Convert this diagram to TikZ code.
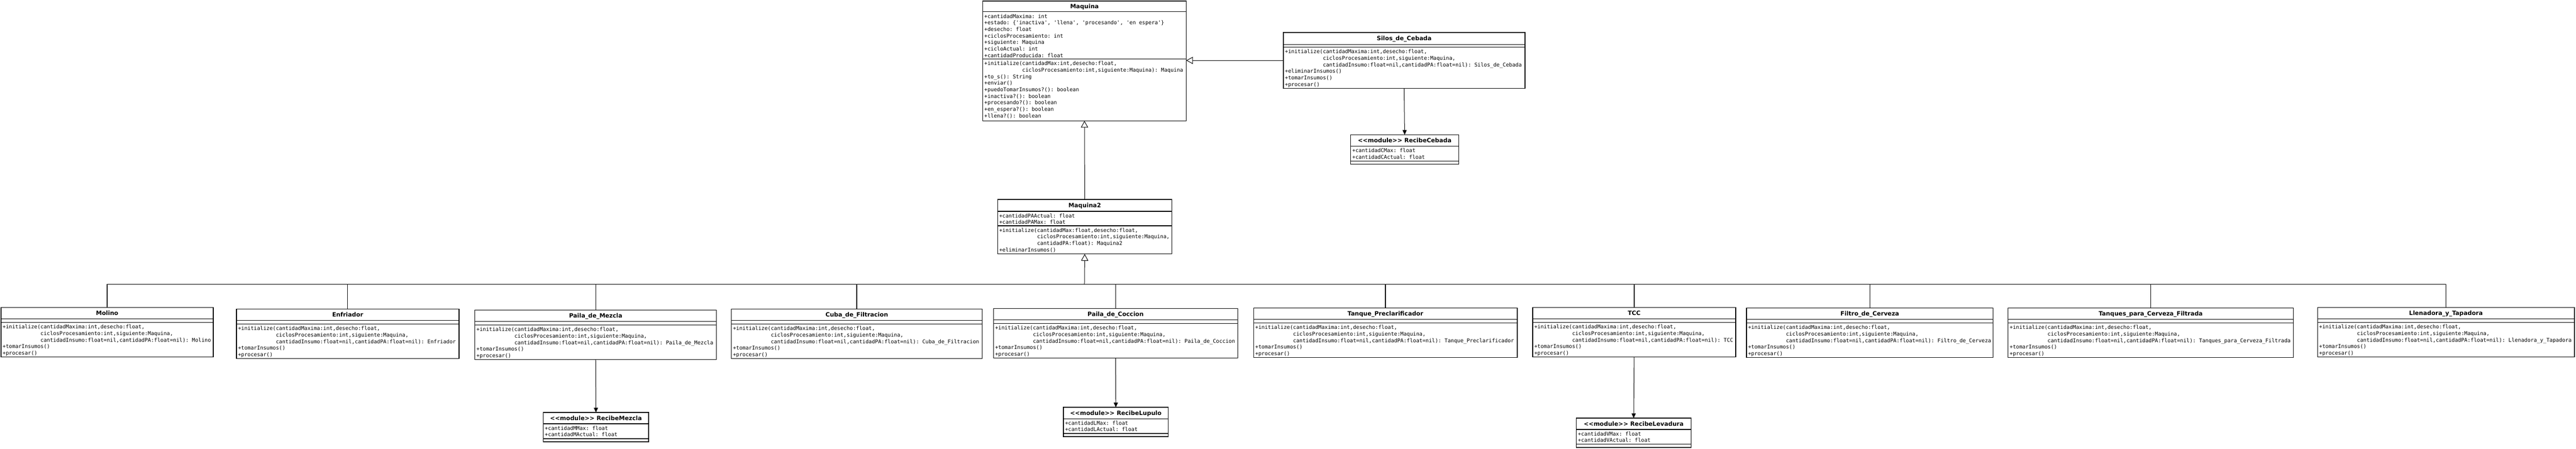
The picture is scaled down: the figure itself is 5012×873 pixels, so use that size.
\documentclass[tikz,border=0pt]{standalone}
\usepackage{fontspec}
\setmonofont{DejaVu Sans Mono}
\newfontfamily\titlefont{DejaVu Sans}
\usetikzlibrary{arrows.meta}

\tikzset{
  box/.style={draw, line width=1.3pt, fill=white, inner sep=0pt, outer sep=0pt},
  sepline/.style={line width=1.1pt},
  titlest/.style={inner sep=0pt, font=\titlefont\bfseries\fontsize{11.5}{13}\selectfont},
  body/.style={anchor=north west, inner sep=0pt, align=left, font=\ttfamily\fontsize{10.2}{12.7}\selectfont},
  gen/.style={line width=1pt, -{Triangle[open, fill=white, width=14pt, length=13pt]}},
  genline/.style={line width=1.2pt},
  dep/.style={line width=1pt, -{Triangle[width=8pt, length=9pt]}},
}

% name, x1, y1, x2, y2, sep1, sep2, title
\newcommand\umlbox[8]{%
  \node[box, anchor=north west, minimum width={#4-#2}, minimum height={#5-#3}] (#1) at (#2,#3) {};
  \draw[sepline] (#2,#6) -- (#4,#6);
  \draw[sepline] (#2,#7) -- (#4,#7);
  \node[titlest, anchor=base] (#1-t) at ({(#2+#4)/2},{(#3+#6)/2+4}) {#8};
}
% name, x1, sep, text
\newcommand\umltxt[4]{%
  \node[body] (#1) at ({#2+3},{#3+3}) {\rule{0pt}{9pt}#4};
}
\newcommand\ind{\phantom{+initialize(}}
\newcommand\stdmeth[1]{+initialize(cantidadMaxima:int,desecho:float,\\\ind ciclosProcesamiento:int,siguiente:Maquina,\\\ind cantidadInsumo:float=nil,cantidadPA:float=nil): #1\\+tomarInsumos()\\+procesar()}
\newcommand\modtitle[1]{<\kern0pt<module>\kern0pt> #1}

\begin{document}
\begin{tikzpicture}[x=1pt,y=-1pt]
\fill[white] (0,0) rectangle (5012,873);
\useasboundingbox (0,0) rectangle (5012,873);

% ---------- Maquina ----------
\umlbox{maquina}{1912}{2}{2308}{235}{23}{115}{Maquina}
\umltxt{maquina-a}{1912}{23}{+cantidadMaxima: int\\+estado: \{'inactiva', 'llena', 'procesando', 'en espera'\}\\+desecho: float\\+ciclosProcesamiento: int\\+siguiente: Maquina\\+cicloActual: int\\+cantidadProducida: float}
\umltxt{maquina-m}{1912}{115}{+initialize(cantidadMax:int,desecho:float,\\\ind ciclosProcesamiento:int,siguiente:Maquina): Maquina\\+to\_s(): String\\+enviar()\\+puedoTomarInsumos?(): boolean\\+inactiva?(): boolean\\+procesando?(): boolean\\+en\_espera?(): boolean\\+llena?(): boolean}

% ---------- Silos_de_Cebada ----------
\umlbox{silos}{2497}{63}{2967}{172}{87}{92}{Silos\_de\_Cebada}
\umltxt{silos-m}{2497}{92}{+initialize(cantidadMaxima:int,desecho:float,\\\ind ciclosProcesamiento:int,siguiente:Maquina,\\\ind cantidadInsumo:float=nil,cantidadPA:float=nil): Silos\_de\_Cebada\\+eliminarInsumos()\\+tomarInsumos()\\+procesar()}

% ---------- RecibeCebada ----------
\umlbox{rcebada}{2628}{262}{2838}{319}{284}{313}{\modtitle{RecibeCebada}}
\umltxt{rcebada-a}{2628}{284}{+cantidadCMax: float\\+cantidadCActual: float}

% ---------- Maquina2 ----------
\umlbox{maquina2}{1941}{388}{2280}{494}{411}{439}{Maquina2}
\umltxt{maquina2-a}{1941}{411}{+cantidadPAActual: float\\+cantidadPAMax: float}
\umltxt{maquina2-m}{1941}{439}{+initialize(cantidadMax:float,desecho:float,\\\ind ciclosProcesamiento:int,siguiente:Maquina,\\\ind cantidadPA:float): Maquina2\\+eliminarInsumos()}

% ---------- subclasses ----------
\umlbox{molino}{2}{598}{415}{694}{620}{627}{Molino}
\umltxt{molino-m}{2}{627}{\stdmeth{Molino}}

\umlbox{enfriador}{460}{601}{893}{697}{623}{630}{Enfriador}
\umltxt{enfriador-m}{460}{630}{\stdmeth{Enfriador}}

\umlbox{mezcla}{924}{603}{1394}{699}{625}{632}{Paila\_de\_Mezcla}
\umltxt{mezcla-m}{924}{632}{\stdmeth{Paila\_de\_Mezcla}}

\umlbox{cuba}{1423}{601}{1911}{697}{623}{630}{Cuba\_de\_Filtracion}
\umltxt{cuba-m}{1423}{630}{\stdmeth{Cuba\_de\_Filtracion}}

\umlbox{coccion}{1933}{600}{2408}{696}{622}{629}{Paila\_de\_Coccion}
\umltxt{coccion-m}{1933}{629}{\stdmeth{Paila\_de\_Coccion}}

\umlbox{tanque}{2439}{599}{2952}{695}{621}{628}{Tanque\_Preclarificador}
\umltxt{tanque-m}{2439}{628}{\stdmeth{Tanque\_Preclarificador}}

\umlbox{tcc}{2982}{598}{3377}{694}{620}{627}{TCC}
\umltxt{tcc-m}{2982}{627}{\stdmeth{TCC}}

\umlbox{filtro}{3398}{599}{3878}{695}{621}{628}{Filtro\_de\_Cerveza}
\umltxt{filtro-m}{3398}{628}{\stdmeth{Filtro\_de\_Cerveza}}

\umlbox{tanques}{3907}{599}{4462}{695}{621}{628}{Tanques\_para\_Cerveza\_Filtrada}
\umltxt{tanques-m}{3907}{628}{\stdmeth{Tanques\_para\_Cerveza\_Filtrada}}

\umlbox{llenadora}{4509}{598}{5009}{694}{620}{627}{Llenadora\_y\_Tapadora}
\umltxt{llenadora-m}{4509}{627}{\stdmeth{Llenadora\_y\_Tapadora}}

% ---------- modules ----------
\umlbox{rmezcla}{1057}{802}{1262}{859}{824}{853}{\modtitle{RecibeMezcla}}
\umltxt{rmezcla-a}{1057}{824}{+cantidadMMax: float\\+cantidadMActual: float}

\umlbox{rlupulo}{2069}{792}{2273}{849}{814}{843}{\modtitle{RecibeLupulo}}
\umltxt{rlupulo-a}{2069}{814}{+cantidadLMax: float\\+cantidadLActual: float}

\umlbox{rlevadura}{3067}{813}{3290}{870}{835}{864}{\modtitle{RecibeLevadura}}
\umltxt{rlevadura-a}{3067}{835}{+cantidadVMax: float\\+cantidadVActual: float}

% ---------- connectors ----------
\coordinate (bus) at (2110,553);
\foreach \c in {molino,enfriador,mezcla,cuba,coccion,tanque,tcc,filtro,tanques,llenadora}
  \draw[genline] (\c.north) |- (bus);
\draw[gen] (bus) -- (maquina2.south);
\draw[gen] (maquina2.north) -- (maquina.south);
\draw[gen] (silos.west) -- (silos.west -| maquina.east);

\draw[dep] (silos.south) -- (rcebada.north);
\draw[dep] (mezcla.south) -- (rmezcla.north);
\draw[dep] (coccion.south) -- (rlupulo.north);
\draw[dep] (tcc.south) -- (rlevadura.north);
\end{tikzpicture}
\end{document}
